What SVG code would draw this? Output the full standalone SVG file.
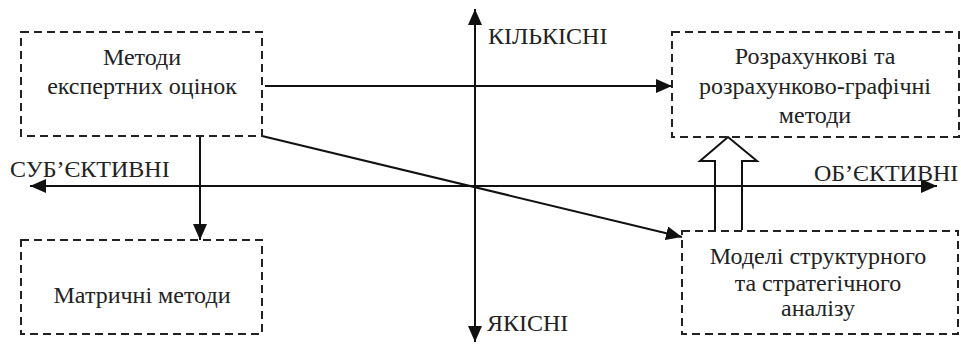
<svg xmlns="http://www.w3.org/2000/svg" width="961" height="345" viewBox="0 0 961 345">
<defs>
<style>
.box{fill:none;stroke:#222;stroke-width:2;stroke-dasharray:8 5}
.ln{fill:none;stroke:#111;stroke-width:2}
.c{text-anchor:middle}
</style>
<marker id="ah" viewBox="0 0 16 14" refX="16" refY="7" markerWidth="16" markerHeight="14" markerUnits="userSpaceOnUse" orient="auto">
<path d="M0,0 L16,7 L0,14 Z" fill="#111"/>
</marker>
</defs>
<rect width="961" height="345" fill="#fff"/>
<g id="connectors">
<line class="ln" x1="475" y1="340" x2="475" y2="9" marker-end="url(#ah)"/>
<line class="ln" x1="475" y1="12" x2="475" y2="342" marker-end="url(#ah)"/>
<line class="ln" x1="475" y1="186" x2="30" y2="186" marker-end="url(#ah)"/>
<line class="ln" x1="475" y1="186" x2="937" y2="186" marker-end="url(#ah)"/>
<line class="ln" x1="265" y1="86" x2="672" y2="86" marker-end="url(#ah)"/>
<line class="ln" x1="200" y1="136" x2="200" y2="240" marker-end="url(#ah)"/>
<line class="ln" x1="262" y1="136" x2="682" y2="237" marker-end="url(#ah)"/>
<path class="ln" d="M715,230 L715,161 L700,161 L728,137 L757,161 L742,161 L742,230" fill="#fff"/>
</g>
<g id="axis-labels" font-family="Liberation Serif" font-size="24" fill="#222">
<text x="488" y="44">КІЛЬКІСНІ</text>
<text x="487" y="331">ЯКІСНІ</text>
<text x="10" y="177">СУБ’ЄКТИВНІ</text>
<text x="814" y="181">ОБ’ЄКТИВНІ</text>
</g>
<g id="node-expert" font-family="Liberation Serif" font-size="24" fill="#222">
<rect class="box" x="21" y="32" width="241" height="104"/>
<text class="c" x="142" y="65">Методи</text>
<text class="c" x="142" y="94">експертних оцінок</text>
</g>
<g id="node-calc" font-family="Liberation Serif" font-size="24" fill="#222">
<rect class="box" x="672" y="32" width="287" height="105"/>
<text class="c" x="815" y="64">Розрахункові та</text>
<text class="c" x="815" y="94">розрахунково-графічні</text>
<text class="c" x="815" y="123">методи</text>
</g>
<g id="node-matrix" font-family="Liberation Serif" font-size="24" fill="#222">
<rect class="box" x="21" y="240" width="241" height="94"/>
<text class="c" x="142" y="303">Матричні методи</text>
</g>
<g id="node-models" font-family="Liberation Serif" font-size="24" fill="#222">
<rect class="box" x="682" y="231" width="276" height="103"/>
<text class="c" x="818" y="264">Моделі структурного</text>
<text class="c" x="818" y="291">та стратегічного</text>
<text class="c" x="818" y="316">аналізу</text>
</g>
</svg>
